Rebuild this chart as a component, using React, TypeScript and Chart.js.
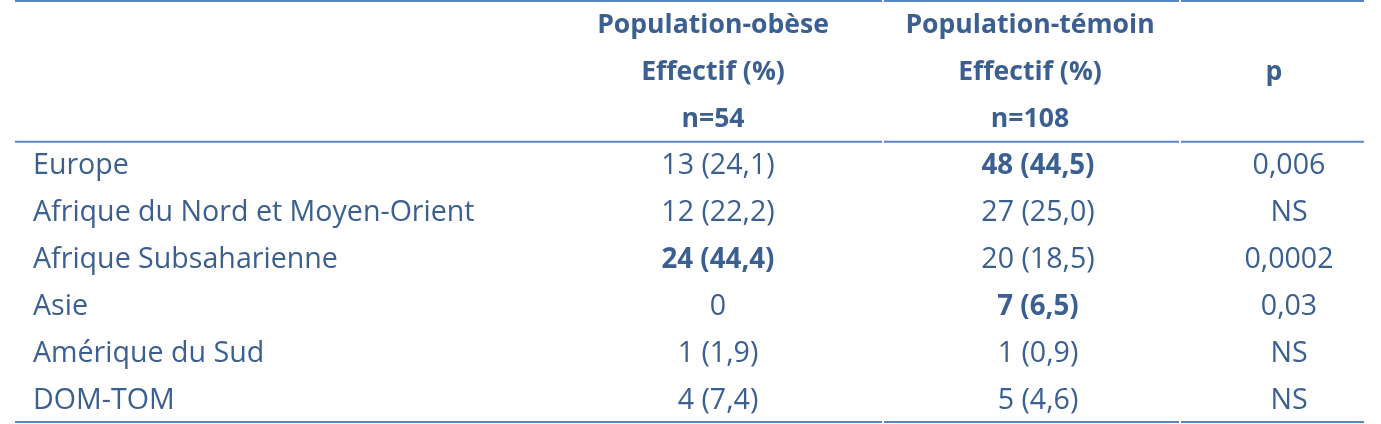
import React, { useEffect, useRef } from "react";
import { Chart, registerables } from "chart.js";

Chart.register(...registerables);

const headerObese = ["Population-obèse", "Effectif (%)", "n=54"];
const headerTemoin = ["Population-témoin", "Effectif (%)", "n=108"];
const headerP = "p";

const regions = [
  "Europe",
  "Afrique du Nord et Moyen-Orient",
  "Afrique Subsaharienne",
  "Asie",
  "Amérique du Sud",
  "DOM-TOM",
];
const obeseCounts = [13, 12, 24, 0, 1, 4];
const obesePct: (number | null)[] = [24.1, 22.2, 44.4, null, 1.9, 7.4];
const temoinCounts = [48, 27, 20, 7, 1, 5];
const temoinPct: (number | null)[] = [44.5, 25.0, 18.5, 6.5, 0.9, 4.6];
const pValues = ["0,006", "NS", "0,0002", "0,03", "NS", "NS"];
const obeseBold = [false, false, true, false, false, false];
const temoinBold = [true, false, false, true, false, false];

const rowKeys = ["h1", "h2", "h3", ...regions];

const fmt = (n: number, p: number | null) =>
  p === null ? String(n) : `${n} (${p.toFixed(1).replace(".", ",")})`;

const TEXT = "#3A5F90";
const LINE = "#5B86C4";
const FONT = "'Open Sans', sans-serif";

const tablePlugin = {
  id: "tablePlugin",
  afterDraw(chart: any) {
    const { ctx, chartArea, scales } = chart;
    const x = scales.x;
    const y = scales.y;
    const colLabel = x.getPixelForValue(33);
    const colObeseH = x.getPixelForValue(713);
    const colObese = x.getPixelForValue(718);
    const colTemH = x.getPixelForValue(1030);
    const colTem = x.getPixelForValue(1038);
    const colPH = x.getPixelForValue(1274);
    const colP = x.getPixelForValue(1289);
    const dy = 2;
    ctx.save();
    ctx.fillStyle = TEXT;
    ctx.textBaseline = "middle";
    const draw = (t: string, px: number, py: number, bold: boolean, align: CanvasTextAlign, header = false) => {
      const size = header ? 26.6 : bold ? 27.7 : 28.6;
      ctx.font = `${bold ? "bold " : ""}${size}px ${FONT}`;
      ctx.textAlign = align;
      ctx.fillText(t, px, py + dy);
    };
    for (let i = 0; i < 3; i++) {
      const py = y.getPixelForValue(i);
      draw(headerObese[i], colObeseH, py, true, "center", true);
      draw(headerTemoin[i], colTemH, py, true, "center", true);
    }
    draw(headerP, colPH, y.getPixelForValue(1), true, "center", true);
    regions.forEach((r, i) => {
      const py = y.getPixelForValue(i + 3);
      draw(r, colLabel, py, false, "left");
      draw(fmt(obeseCounts[i], obesePct[i]), colObese, py, obeseBold[i], "center");
      draw(fmt(temoinCounts[i], temoinPct[i]), colTem, py, temoinBold[i], "center");
      draw(pValues[i], colP, py, false, "center");
    });
    // rules
    const band = (chartArea.bottom - chartArea.top) / rowKeys.length;
    const ys = [chartArea.top + 1, chartArea.top + band * 3 + 1, chartArea.bottom];
    const segs = [
      [x.getPixelForValue(15), x.getPixelForValue(882)],
      [x.getPixelForValue(884), x.getPixelForValue(1179)],
      [x.getPixelForValue(1181), x.getPixelForValue(1364)],
    ];
    ctx.strokeStyle = LINE;
    ctx.lineWidth = 2;
    ys.forEach((ly) => {
      segs.forEach(([a, b]) => {
        ctx.beginPath();
        ctx.moveTo(a, ly);
        ctx.lineTo(b, ly);
        ctx.stroke();
      });
    });
    ctx.restore();
  },
};

export default function App() {
  const ref = useRef<HTMLCanvasElement>(null);
  useEffect(() => {
    if (!ref.current) return;
    const chart = new Chart(ref.current, {
      type: "bar",
      data: {
        labels: rowKeys,
        datasets: [{ data: [], backgroundColor: "transparent" }],
      },
      options: {
        animation: false,
        responsive: false,
        indexAxis: "y",
        layout: { padding: { top: 0, bottom: 2, left: 0, right: 0 } },
        plugins: { legend: { display: false }, tooltip: { enabled: false } },
        scales: {
          x: { type: "linear", min: 0, max: 1381, display: false },
          y: { type: "category", display: false, offset: true },
        },
      },
      plugins: [tablePlugin],
    });
    return () => chart.destroy();
  }, []);
  return (
    <div style={{ position: "absolute", left: 0, top: 0, width: 1381, height: 424, background: "#fff" }}>
      <canvas ref={ref} width={1381} height={424} />
    </div>
  );
}
